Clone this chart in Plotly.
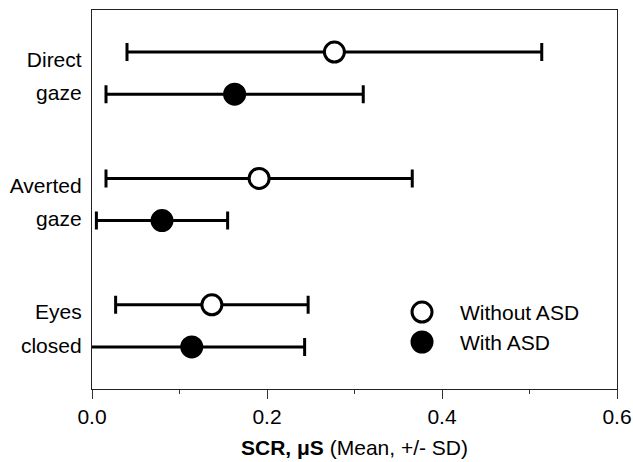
import plotly.graph_objects as go

# ---- data ----
conditions = ["Direct gaze", "Averted gaze", "Eyes closed"]
label_top = ["Direct", "Averted", "Eyes"]
label_bottom = ["gaze", "gaze", "closed"]
without_mean = [0.277, 0.191, 0.137]
without_sd = [0.237, 0.175, 0.110]
with_mean = [0.163, 0.080, 0.114]
with_sd = [0.147, 0.075, 0.129]
x_ticks = [0.0, 0.2, 0.4, 0.6]
x_ticklabels = ["0.0", "0.2", "0.4", "0.6"]
series_names = ["Without ASD", "With ASD"]

OFF = 1 / 6
idx = list(range(len(conditions)))
y_without = [i - OFF for i in idx]
y_with = [i + OFF for i in idx]

FONT = "Liberation Sans, Arial, sans-serif"

open_marker = dict(symbol="circle", size=20, color="white",
                   line=dict(color="black", width=3))
fill_marker = dict(symbol="circle", size=21, color="black",
                   line=dict(color="black", width=2))

fig = go.Figure()
fig.add_trace(go.Scatter(
    x=without_mean, y=y_without, mode="markers", name=series_names[0],
    marker=open_marker, showlegend=False,
    error_x=dict(type="data", array=without_sd, symmetric=True,
                 color="black", thickness=3, width=9),
))
fig.add_trace(go.Scatter(
    x=with_mean, y=y_with, mode="markers", name=series_names[1],
    marker=fill_marker, showlegend=False,
    error_x=dict(type="data", array=with_sd, symmetric=True,
                 color="black", thickness=3, width=9),
))

# legend drawn on an invisible overlay axis (paper-like 0..1)
LEG_X = 0.6286
LEG_Y = [0.203, 0.124]
for name, mk, ly in zip(series_names, [open_marker, fill_marker], LEG_Y):
    fig.add_trace(go.Scatter(
        x=[LEG_X], y=[ly], xaxis="x2", yaxis="y2", mode="markers",
        marker=mk, showlegend=False, hoverinfo="skip",
    ))
    fig.add_annotation(x=0.697, y=ly, xref="paper", yref="paper",
                       text=name, showarrow=False, xanchor="left",
                       yanchor="middle", font=dict(size=21))

tickvals = [i - 0.11 for i in idx] + [i + 0.155 for i in idx]
ticktext = label_top + label_bottom

fig.update_layout(
    width=633, height=462,
    margin=dict(l=92, r=16, t=10, b=73),
    plot_bgcolor="white", paper_bgcolor="white",
    font=dict(family=FONT, size=21, color="black"),
    showlegend=False,
    xaxis=dict(
        range=[0, 0.6], tickvals=x_ticks, ticktext=x_ticklabels,
        ticks="outside", ticklen=9, tickwidth=1.3, tickcolor="#333",
        showline=True, linecolor="#222", linewidth=1.3, mirror=True,
        showgrid=False, zeroline=False, automargin=False,
        minor=dict(dtick=0.1, tick0=0, ticks="outside", ticklen=4,
                   tickwidth=1.3, tickcolor="#333", showgrid=False),
        title=dict(text="<b>SCR, \u03bcS</b> (Mean, +/- SD)", standoff=12,
                   font=dict(size=21)),
    ),
    yaxis=dict(
        range=[2.5, -0.5], tickvals=tickvals, ticktext=ticktext,
        ticks="", showline=True, linecolor="#222", linewidth=1.3,
        mirror=True, showgrid=False, zeroline=False, automargin=False,
        ticklabelstandoff=5,
    ),
    xaxis2=dict(overlaying="x", range=[0, 1], visible=False, fixedrange=True),
    yaxis2=dict(overlaying="y", range=[0, 1], visible=False, fixedrange=True),
)

fig.write_html("out.html")
